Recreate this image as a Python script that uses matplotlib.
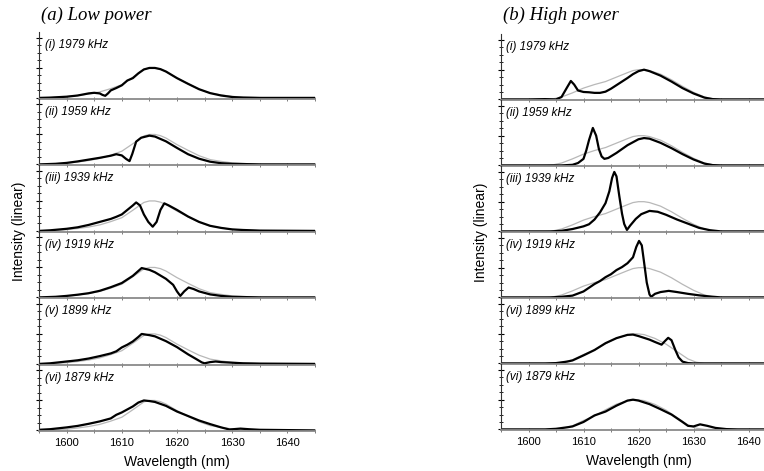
import numpy as np
import matplotlib
matplotlib.use('Agg')
import matplotlib.pyplot as plt
from matplotlib.ticker import MultipleLocator

# 서브플롯 라벨
labels_a = ['(i) 1979 kHz', '(ii) 1959 kHz', '(iii) 1939 kHz', '(iv) 1919 kHz', '(v) 1899 kHz', '(vi) 1879 kHz']
labels_b = ['(i) 1979 kHz', '(ii) 1959 kHz', '(iii) 1939 kHz', '(iv) 1919 kHz', '(vi) 1899 kHz', '(vi) 1879 kHz']

# (a) low power - 회색 기준 스펙트럼
gray_a_wl = [1595, 1597, 1600, 1602, 1604, 1606, 1608, 1610, 1612, 1613, 1614, 1615, 1616, 1617, 1618, 1620, 1622, 1624, 1626, 1628, 1630, 1632, 1635, 1640, 1645]
gray_a_val = [0.0, 0.01, 0.04, 0.08, 0.13, 0.2, 0.31, 0.44, 0.69, 0.82, 0.95, 1.0, 1.0, 0.96, 0.88, 0.66, 0.47, 0.29, 0.16, 0.1, 0.05, 0.03, 0.01, 0.0, 0.0]

# (a) low power - 측정 스펙트럼 (검은선)
a1_wl = [1595, 1597, 1600, 1602, 1604, 1605, 1606, 1606.5, 1607, 1607.5, 1608, 1609, 1610, 1611, 1612, 1613, 1614, 1615, 1616, 1617, 1618, 1620, 1622, 1624, 1626, 1628, 1630, 1632, 1635, 1645]
a1_val = [0.0, 0.01, 0.04, 0.08, 0.15, 0.17, 0.15, 0.1, 0.07, 0.15, 0.25, 0.33, 0.42, 0.58, 0.66, 0.82, 0.95, 1.0, 1.0, 0.96, 0.88, 0.66, 0.47, 0.29, 0.16, 0.08, 0.03, 0.01, 0.0, 0.0]

a2_wl = [1595, 1598, 1600, 1602, 1604, 1606, 1608, 1609, 1610, 1610.8, 1611.4, 1611.9, 1612.6, 1613.5, 1615, 1616, 1618, 1620, 1622, 1624, 1626, 1628, 1630, 1635, 1645]
a2_val = [0.0, 0.02, 0.05, 0.1, 0.16, 0.22, 0.29, 0.34, 0.3, 0.18, 0.11, 0.35, 0.76, 0.89, 0.96, 0.93, 0.77, 0.55, 0.34, 0.19, 0.09, 0.04, 0.02, 0.0, 0.0]

a3_wl = [1595, 1597, 1600, 1602, 1604, 1606, 1608, 1609, 1610, 1611, 1612, 1612.6, 1613.3, 1614, 1614.8, 1615.6, 1616.3, 1617, 1617.7, 1618.5, 1620, 1622, 1624, 1626, 1628, 1630, 1632, 1635, 1645]
a3_val = [0.0, 0.02, 0.07, 0.12, 0.2, 0.3, 0.4, 0.47, 0.55, 0.7, 0.85, 0.95, 0.85, 0.55, 0.3, 0.14, 0.3, 0.7, 0.92, 0.85, 0.7, 0.48, 0.3, 0.17, 0.1, 0.05, 0.03, 0.01, 0.0]

a4_wl = [1595, 1598, 1600, 1602, 1604, 1606, 1608, 1610, 1612, 1613.6, 1615, 1616, 1618, 1619.3, 1620, 1620.6, 1621.3, 1622.1, 1623, 1624, 1626, 1628, 1630, 1635, 1645]
a4_val = [0.0, 0.02, 0.05, 0.09, 0.14, 0.22, 0.34, 0.48, 0.72, 0.98, 0.92, 0.84, 0.62, 0.42, 0.2, 0.05, 0.2, 0.33, 0.28, 0.2, 0.1, 0.05, 0.02, 0.0, 0.0]

a5_wl = [1595, 1597, 1600, 1602, 1604, 1606, 1608, 1609, 1610, 1611, 1612, 1613, 1613.6, 1615, 1616, 1618, 1620, 1622, 1623.5, 1624.5, 1625, 1626, 1627, 1628, 1630, 1632, 1635, 1645]
a5_val = [0.0, 0.02, 0.08, 0.12, 0.18, 0.26, 0.35, 0.42, 0.55, 0.64, 0.75, 0.9, 1.0, 0.96, 0.92, 0.76, 0.56, 0.32, 0.16, 0.05, 0.02, 0.06, 0.08, 0.06, 0.04, 0.02, 0.01, 0.0]

a6_wl = [1595, 1597, 1600, 1602, 1604, 1606, 1608, 1609, 1610, 1611, 1612, 1613, 1614, 1615, 1616, 1618, 1620, 1622, 1624, 1626, 1628, 1629.5, 1631.5, 1633, 1635, 1640, 1645]
a6_val = [0.02, 0.04, 0.1, 0.15, 0.22, 0.3, 0.4, 0.52, 0.6, 0.7, 0.8, 0.93, 1.0, 0.98, 0.95, 0.82, 0.63, 0.48, 0.33, 0.21, 0.1, 0.03, 0.06, 0.04, 0.02, 0.01, 0.0]

# (b) high power - 회색 기준 스펙트럼
gray_b_wl = [1595, 1603, 1604.5, 1606, 1607, 1608, 1610, 1612, 1614, 1616, 1618, 1619, 1620, 1621, 1622, 1624, 1626, 1628, 1630, 1632, 1633.5, 1635, 1645]
gray_b_val = [0.0, 0.0, 0.02, 0.08, 0.15, 0.22, 0.38, 0.5, 0.6, 0.75, 0.9, 0.97, 1.0, 1.0, 0.97, 0.85, 0.66, 0.44, 0.24, 0.08, 0.02, 0.0, 0.0]

gray_b2_wl = [1595, 1604, 1606, 1608, 1610, 1612, 1614, 1616, 1618, 1619.5, 1621, 1623, 1625, 1627, 1629, 1630.5, 1632, 1645]
gray_b2_val = [0.0, 0.0, 0.03, 0.12, 0.3, 0.45, 0.66, 0.85, 0.96, 1.0, 0.97, 0.84, 0.65, 0.4, 0.15, 0.04, 0.0, 0.0]

# (b) high power - 측정 스펙트럼
b1_wl = [1595, 1600, 1603, 1605, 1606, 1607, 1607.7, 1608.3, 1609, 1610, 1611, 1612, 1613, 1614, 1615, 1616, 1617, 1618, 1619, 1620, 1621, 1622, 1624, 1626, 1628, 1630, 1632, 1633.5, 1635, 1645]
b1_val = [0.0, 0.0, 0.01, 0.0, 0.08, 0.4, 0.62, 0.5, 0.3, 0.25, 0.24, 0.22, 0.22, 0.26, 0.36, 0.48, 0.6, 0.72, 0.85, 0.95, 1.0, 0.95, 0.8, 0.6, 0.38, 0.2, 0.06, 0.01, 0.0, 0.0]

b2_wl = [1595, 1606, 1607, 1608, 1609, 1610, 1610.5, 1611, 1611.7, 1612.3, 1612.8, 1613.3, 1613.8, 1614.5, 1616, 1618, 1620, 1621, 1622, 1624, 1626, 1628, 1630, 1632, 1633.5, 1635, 1645]
b2_val = [0.0, 0.0, 0.01, 0.02, 0.08, 0.22, 0.5, 0.85, 1.26, 1.0, 0.55, 0.3, 0.22, 0.25, 0.42, 0.68, 0.88, 0.92, 0.9, 0.76, 0.58, 0.38, 0.2, 0.06, 0.01, 0.0, 0.0]

b3_wl = [1595, 1604, 1606, 1608, 1610, 1611, 1612, 1613, 1614, 1614.7, 1615.2, 1615.6, 1616, 1616.5, 1617, 1617.4, 1617.9, 1618.5, 1619.5, 1620.5, 1622, 1623.5, 1625, 1627, 1629, 1631, 1633, 1635, 1645]
b3_val = [0.0, 0.0, 0.02, 0.08, 0.17, 0.24, 0.4, 0.64, 0.95, 1.35, 1.8, 2.0, 1.85, 1.2, 0.6, 0.25, 0.05, 0.2, 0.42, 0.58, 0.69, 0.66, 0.56, 0.4, 0.26, 0.12, 0.04, 0.0, 0.0]

b4_wl = [1595, 1604, 1606, 1608, 1610, 1612, 1613, 1614, 1615, 1616, 1617, 1618, 1619, 1619.6, 1620.1, 1620.6, 1621, 1621.5, 1622, 1622.3, 1623, 1624, 1625.5, 1627, 1629, 1631, 1633, 1635, 1645]
b4_val = [0.0, 0.0, 0.02, 0.06, 0.2, 0.45, 0.55, 0.68, 0.78, 0.92, 1.02, 1.15, 1.35, 1.7, 1.9, 1.75, 1.2, 0.5, 0.1, 0.02, 0.12, 0.18, 0.22, 0.18, 0.12, 0.07, 0.03, 0.0, 0.0]

b5_wl = [1595, 1603, 1605, 1607, 1608, 1610, 1612, 1614, 1616, 1618, 1619, 1620, 1622, 1623, 1624.2, 1624.8, 1625.4, 1626, 1626.7, 1627.3, 1628, 1629, 1630, 1645]
b5_val = [0.0, 0.0, 0.01, 0.06, 0.1, 0.27, 0.45, 0.68, 0.85, 0.96, 0.97, 0.92, 0.8, 0.72, 0.63, 0.75, 0.86, 0.78, 0.45, 0.2, 0.06, 0.01, 0.0, 0.0]

b6_wl = [1595, 1603, 1605, 1607, 1608, 1610, 1612, 1614, 1616, 1618, 1619, 1620, 1622, 1624, 1626, 1628, 1629, 1630, 1631.2, 1632.5, 1634, 1636, 1638, 1645]
b6_val = [0.0, 0.0, 0.02, 0.07, 0.1, 0.25, 0.47, 0.6, 0.8, 0.97, 1.0, 0.97, 0.85, 0.68, 0.5, 0.25, 0.12, 0.1, 0.17, 0.12, 0.05, 0.01, 0.0, 0.0]

black_a = [(a1_wl, a1_val), (a2_wl, a2_val), (a3_wl, a3_val), (a4_wl, a4_val), (a5_wl, a5_val), (a6_wl, a6_val)]
black_b = [(b1_wl, b1_val), (b2_wl, b2_val), (b3_wl, b3_val), (b4_wl, b4_val), (b5_wl, b5_val), (b6_wl, b6_val)]
gray_a = [(gray_a_wl, gray_a_val)] * 6
gray_b = [(gray_b_wl, gray_b_val)] * 4 + [(gray_b2_wl, gray_b2_val)] * 2

W, H = 764, 471
fig = plt.figure(figsize=(W / 100, H / 100), dpi=100)

sans = ['Liberation Sans', 'DejaVu Sans']
serif = ['Liberation Serif', 'DejaVu Serif']


def draw_panel(x0, x1, top, bottom, labels, blacks, grays, title, ylabel_x):
    h = (bottom - top) / 6.0
    axes = []
    for i in range(6):
        y_top = top + i * h
        ax = fig.add_axes([x0 / W, 1 - (y_top + h) / H, (x1 - x0) / W, h / H])
        gw, gv = grays[i]
        bw, bv = blacks[i]
        ax.plot(gw, gv, color='#b8b8b8', lw=0.9)
        ax.plot(bw, bv, color='black', lw=1.6)
        ax.set_xlim(1595, 1645)
        ax.set_ylim(-0.02, 2.2)
        ax.spines['top'].set_visible(False)
        ax.spines['right'].set_visible(False)
        ax.spines['bottom'].set_color('#8a8a8a')
        ax.spines['bottom'].set_linewidth(1.3)
        ax.spines['left'].set_color('#333333')
        ax.spines['left'].set_linewidth(0.8)
        ax.xaxis.set_major_locator(MultipleLocator(10))
        ax.xaxis.set_minor_locator(MultipleLocator(5))
        ax.yaxis.set_major_locator(MultipleLocator(1))
        ax.yaxis.set_minor_locator(MultipleLocator(0.25))
        ax.tick_params(axis='y', which='major', direction='inout', length=4, width=0.8, labelleft=False)
        ax.tick_params(axis='y', which='minor', direction='inout', length=2.5, width=0.6)
        ax.tick_params(axis='x', which='both', direction='inout', length=3, width=0.6, color='#666666')
        ax.set_yticklabels([])
        ax.text(1596.0, 1.75, labels[i], fontsize=8.5, style='italic', family=sans, va='center', ha='left')
        ax.patch.set_alpha(0)
        if i < 5:
            ax.tick_params(axis='x', labelbottom=False)
        else:
            ax.tick_params(axis='x', labelsize=8)
            for lab in ax.get_xticklabels():
                lab.set_family(sans)
            ax.set_xlabel('Wavelength (nm)', fontsize=10, family=sans, labelpad=5)
        axes.append(ax)
    fig.text(x0 / W + 0.003, 1 - 15 / H, title, fontsize=13.5, style='italic', family=serif, va='center', ha='left')
    fig.text(ylabel_x / W, 1 - (top + bottom) / 2 / H, 'Intensity (linear)', fontsize=10, family=sans,
             rotation=90, va='center', ha='center')
    return axes


draw_panel(39, 315, 32, 431, labels_a, black_a, gray_a, '(a) Low power', 19)
draw_panel(501, 776, 34, 430, labels_b, black_b, gray_b, '(b) High power', 481)

fig.savefig('out.png', dpi=100)
